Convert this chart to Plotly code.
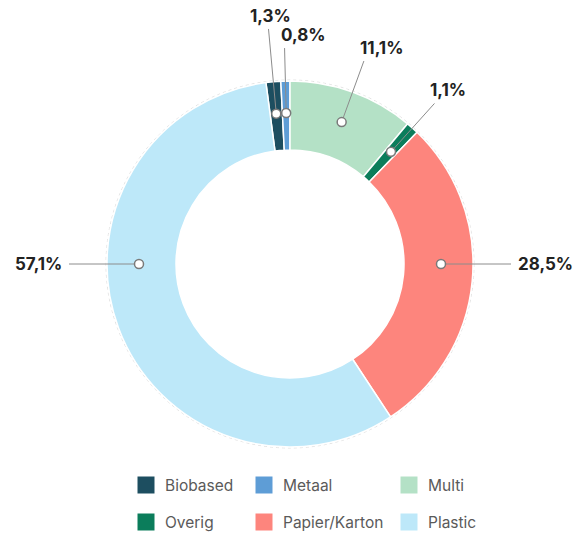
import math

import plotly.graph_objects as go

# data
categories = ["Biobased", "Metaal", "Multi", "Overig", "Papier/Karton", "Plastic"]
shares = [1.3, 0.8, 11.1, 1.1, 28.5, 57.1]
share_labels = ["1,3%", "0,8%", "11,1%", "1,1%", "28,5%", "57,1%"]
colors = ["#1d4e60", "#5e9dd6", "#b4e1c6", "#0b7d5b", "#fd857d", "#bde8f9"]

W, H = 577, 536
CX, CY = 290, 264          # donut centre in px
R_OUT, R_IN = 183, 114
R_MARK = 151
R_LINE = 216

total = sum(shares)
# Multi starts at 12 o'clock, so the first two slices sit just left of it
rotation = -(shares[0] + shares[1]) / total * 360

fig = go.Figure()

fig.add_trace(go.Pie(
    labels=categories,
    values=shares,
    sort=False,
    direction="clockwise",
    rotation=rotation,
    hole=R_IN / R_OUT,
    textinfo="none",
    hoverinfo="label+percent",
    showlegend=False,
    marker=dict(colors=colors, line=dict(color="white", width=1.5)),
    domain=dict(x=[(CX - R_OUT) / W, (CX + R_OUT) / W],
                y=[(H - CY - R_OUT) / H, (H - CY + R_OUT) / H]),
))


def px(theta, r):
    a = math.radians(theta)
    return CX + r * math.sin(a), CY - r * math.cos(a)


# angles of the label anchors (mid angle, big slices snap to 3 / 9 o'clock)
angles = []
start = rotation
for v in shares:
    end = start + v / total * 360
    mid = (start + end) / 2
    for snap in (90, 270):
        if start < snap < end and end - start > 60:
            mid = snap
    angles.append(mid)
    start = end

shapes = []
annotations = []
for i, (theta, lab) in enumerate(zip(angles, share_labels)):
    bumped = i + 1 < len(angles) and abs(angles[i + 1] - theta) < 6
    side = abs(theta - 90) < 1 or abs(theta - 270) < 1
    r_end = R_LINE + (20 if bumped else 0) + (5 if side else 0)
    x0, y0 = px(theta, R_MARK)
    x1, y1 = px(theta, r_end)
    shapes.append(dict(type="line", xref="x", yref="y", x0=x0, y0=y0, x1=x1, y1=y1,
                       line=dict(color="#8c8c8c", width=1), layer="above"))
    shapes.append(dict(type="circle", xref="x", yref="y",
                       x0=x0 - 4.5, x1=x0 + 4.5, y0=y0 - 4.5, y1=y0 + 4.5,
                       fillcolor="white", line=dict(color="#7a7a7a", width=1.5),
                       layer="above"))
    if abs(theta - 90) < 1:
        ann = dict(x=x1 + 5, y=y1, xanchor="left", yanchor="middle")
    elif abs(theta - 270) < 1:
        ann = dict(x=x1 - 5, y=y1, xanchor="right", yanchor="middle")
    elif bumped:
        ann = dict(x=x1 + 2, y=y1 - 1, xanchor="center", yanchor="bottom")
    else:
        ann = dict(x=x1 - 6, y=y1 - 1, xanchor="left", yanchor="bottom")
    ann.update(xref="x", yref="y", text=lab, showarrow=False,
               font=dict(family="Inter", size=17, color="#222222", weight="bold"))
    annotations.append(ann)

# faint dotted outline around the ring
shapes.append(dict(type="circle", xref="x", yref="y",
                   x0=CX - R_OUT - 1, x1=CX + R_OUT + 1,
                   y0=CY - R_OUT - 1, y1=CY + R_OUT + 1,
                   line=dict(color="#d9d9d9", width=0.8, dash="dot"), layer="below"))

# custom legend, 2 rows x 3 columns
col_x = [146, 264, 409]
row_y = [485, 522]
for i, (name, col) in enumerate(zip(categories, colors)):
    lx = col_x[i % 3]
    ly = row_y[i // 3]
    fig.add_trace(go.Scatter(
        x=[lx], y=[ly], mode="markers", showlegend=False, hoverinfo="skip",
        marker=dict(symbol="square", size=17, color=col, line=dict(width=0)),
    ))
    annotations.append(dict(x=lx + 17, y=ly, xref="x", yref="y", text=name,
                            xanchor="left", yanchor="middle", showarrow=False,
                            font=dict(family="Inter", size=15.5, color="#5a5a5a")))

fig.update_layout(
    width=W,
    height=H,
    margin=dict(l=0, r=0, t=0, b=0),
    paper_bgcolor="white",
    plot_bgcolor="white",
    xaxis=dict(range=[0, W], visible=False, fixedrange=True),
    yaxis=dict(range=[H, 0], visible=False, fixedrange=True),
    shapes=shapes,
    annotations=annotations,
)

fig.write_html("out.html", config={"displayModeBar": False},
               post_script="document.body.style.margin='0';")
